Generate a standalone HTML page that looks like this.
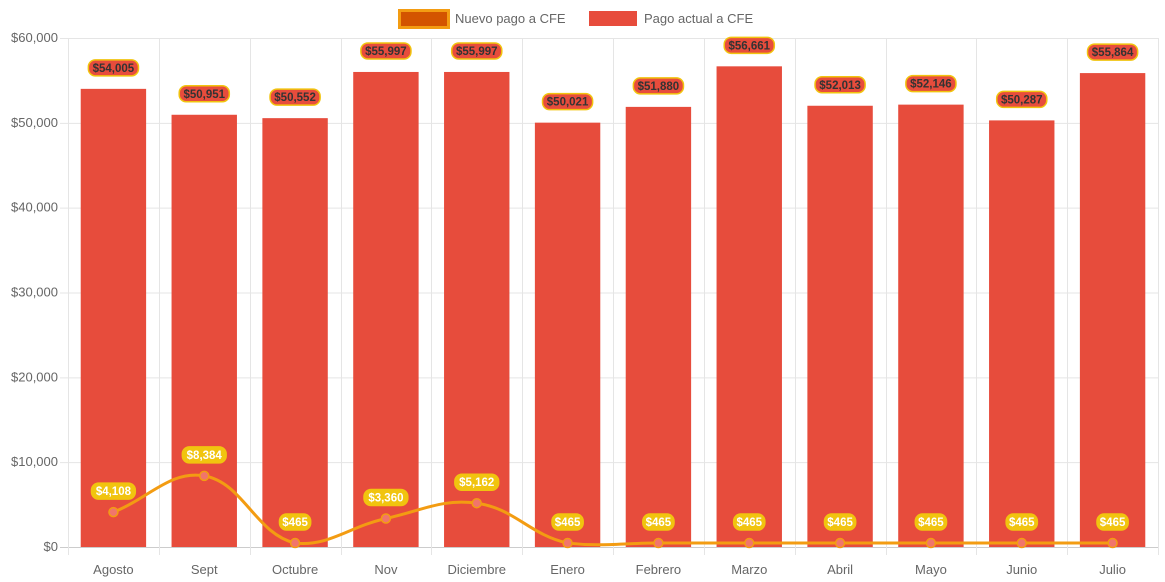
<!DOCTYPE html>
<html><head><meta charset="utf-8"><style>
html,body{margin:0;padding:0;background:#fff;}
svg{display:block;font-family:"Liberation Sans",Arial,sans-serif;}
</style></head><body>
<svg id="chart" width="1165" height="582">
<g>
 <g>
  <rect x="399.5" y="10.5" width="49" height="17" fill="#d35400" stroke="#f39c12" stroke-width="3"/>
  <text x="455" y="23" font-size="13" fill="#666">Nuevo pago a CFE</text>
 </g>
 <g>
  <rect x="589" y="11" width="48" height="15" fill="#e74c3c"/>
  <text x="644" y="23" font-size="13" fill="#666">Pago actual a CFE</text>
 </g>
</g>
<g id="grid"></g>
<g id="bars"></g>
<g id="line"></g>
<g id="labels"></g>
</svg>
<script>
const categories=["Agosto","Sept","Octubre","Nov","Diciembre","Enero","Febrero","Marzo","Abril","Mayo","Junio","Julio"];
const actualValues=[54005,50951,50552,55997,55997,50021,51880,56661,52013,52146,50287,55864];
const nuevoValues=[4108,8384,465,3360,5162,465,465,465,465,465,465,465];
const yTicks=[0,10000,20000,30000,40000,50000,60000];

const NS="http://www.w3.org/2000/svg";
const L=68,R=1158,T=38,B=547,YMAX=60000;
const band=(R-L)/categories.length;
const x=i=>L+band*(i+0.5);
const y=v=>B-(v/YMAX)*(B-T);
const fmt=v=>"$"+v.toLocaleString("en-US");
function mk(tag,attrs,parent){const e=document.createElementNS(NS,tag);for(const k in attrs)e.setAttribute(k,attrs[k]);parent.appendChild(e);return e;}
const grid=document.getElementById('grid'),bars=document.getElementById('bars'),line=document.getElementById('line'),labels=document.getElementById('labels');

yTicks.forEach(t=>{
 const ln=mk('line',{x1:L-8,x2:R,y1:y(t)+0.5,y2:y(t)+0.5,stroke:t===0?'#ccc':'#e5e5e5','stroke-width':1},grid);
 
 
 const tx=mk('text',{x:L-10,y:y(t)+4,'text-anchor':'end','font-size':13,fill:'#666'},grid);
 tx.textContent=fmt(t);
 
 
});
for(let i=0;i<=categories.length;i++){
 const gx=Math.round(L+band*i)+0.5;
 const ln=mk('line',{x1:gx,x2:gx,y1:T,y2:B+8,stroke:'#e5e5e5','stroke-width':1},grid);
 
 
}
categories.forEach((c,i)=>{
 const tx=mk('text',{x:x(i),y:574,'text-anchor':'middle','font-size':13,fill:'#666'},grid);
 tx.textContent=c;
 
 
});
const bw=band*0.72;
actualValues.forEach((v,i)=>{
 const r=mk('rect',{x:x(i)-bw/2,y:y(v),width:bw,height:B-y(v),fill:'#e74c3c'},bars);
 
 
});
const pts=nuevoValues.map((v,i)=>({x:x(i),y:y(v)}));
const tension=0.4;
const cps=pts.map((p,i)=>{
 const prev=pts[Math.max(0,i-1)],next=pts[Math.min(pts.length-1,i+1)];
 const d01=Math.hypot(p.x-prev.x,p.y-prev.y),d12=Math.hypot(next.x-p.x,next.y-p.y);
 let s01=d01/(d01+d12||1),s12=d12/(d01+d12||1);
 const fa=tension*s01,fb=tension*s12;
 return {px:p.x-fa*(next.x-prev.x),py:p.y-fa*(next.y-prev.y),nx:p.x+fb*(next.x-prev.x),ny:p.y+fb*(next.y-prev.y)};
});
let d=`M${pts[0].x},${pts[0].y}`;
for(let i=1;i<pts.length;i++){
 let c1y=Math.min(cps[i-1].ny,B),c2y=Math.min(cps[i].py,B);
 d+=` C${cps[i-1].nx},${c1y} ${cps[i].px},${c2y} ${pts[i].x},${pts[i].y}`;
}
const path=mk('path',{d:d,fill:'none',stroke:'#f39c12','stroke-width':3},line);


pts.forEach((p,i)=>{
 const c=mk('circle',{cx:p.x,cy:p.y,r:4.5,fill:'#f1756b',stroke:'#f39c12','stroke-width':1.5},line);
 
 
});
function badge(cx,cy,text,fill,stroke,color,name){
 const g=mk('g',{},labels);
 
 
 const w=text.length*6.3+6;
 mk('rect',{x:cx-w/2,y:cy-8,width:w,height:16,rx:7,fill:fill,stroke:stroke,'stroke-width':1.5},g);
 const t=mk('text',{x:cx,y:cy+4,'text-anchor':'middle','font-size':11.5,'font-weight':'bold',fill:color},g);
 t.textContent=text;
}
actualValues.forEach((v,i)=>badge(x(i),y(v)-21,fmt(v),'#e74c3c','#f1c40f','#333','bar-value-label'));
nuevoValues.forEach((v,i)=>badge(x(i),y(v)-21,fmt(v),'#f1c40f','#f1c40f','#fff','line-value-label'));
</script>
</body></html>
